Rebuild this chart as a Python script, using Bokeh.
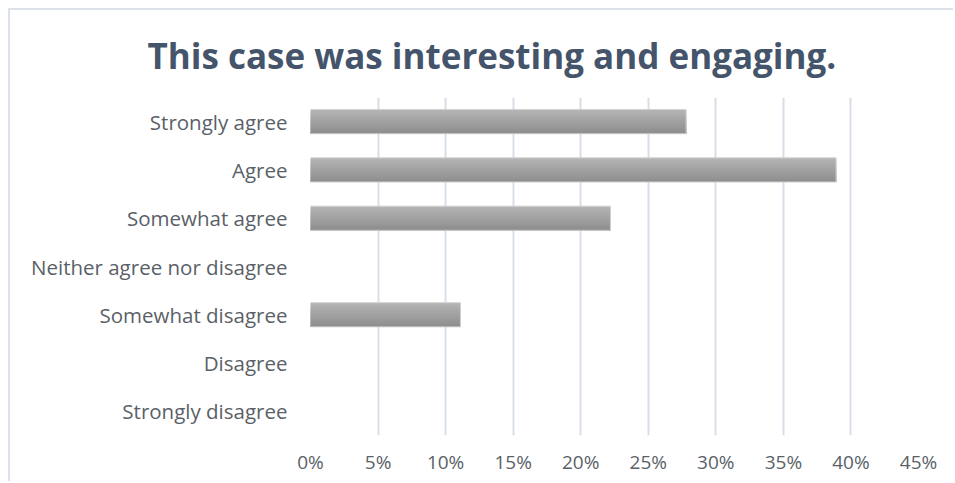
from bokeh.plotting import figure
from bokeh.models import FixedTicker, ColumnDataSource
from bokeh.transform import dodge
from bokeh.embed import file_html
from bokeh.resources import INLINE

title_text = "This case was interesting and engaging."
categories = ["Strongly agree", "Agree", "Somewhat agree", "Neither agree nor disagree",
              "Somewhat disagree", "Disagree", "Strongly disagree"]
percent_values = [27.8, 38.9, 22.2, 0.0, 11.1, 0.0, 0.0]
tick_values = [0, 5, 10, 15, 20, 25, 30, 35, 40, 45]
tick_labels = ["0%", "5%", "10%", "15%", "20%", "25%", "30%", "35%", "40%", "45%"]

OFF = 10  # margin + border
W, H = 955 - OFF, 483 - OFF
FL, FR, FT, FB = 310 - OFF, 918 - OFF, 97 - OFF, 435 - OFF
p = figure(width=W, height=H, y_range=list(reversed(categories)), x_range=(0, 45),
           output_backend="svg", toolbar_location=None,
           min_border_left=FL, min_border_right=W - FR, min_border_top=FT,
           min_border_bottom=H - FB)
p.margin = (8, 0, 0, 8)
p.styles = {"border-top": "2px solid #dde2ea", "border-left": "2px solid #dde2ea"}
p.outline_line_color = None
p.background_fill_color = "white"
p.border_fill_color = "white"

p.title.text = title_text
p.title.align = "left"
p.title.vertical_align = "middle"
p.title.offset = 147 - 310
p.title.standoff = 36
p.title.text_font = "Open Sans"
p.title.text_font_style = "bold"
p.title.text_font_size = "35px"
p.title.text_color = "#44546A"

line_cols = ["#d0d0d0" if v > 0 else None for v in percent_values]
src = ColumnDataSource(dict(cat=categories, val=percent_values, lc=line_cols))

# gradient-like bar fill: stacked stripes, each reaching to the bar bottom
n = 14
bar_h = 0.5
top_c = (0xB4, 0xB4, 0xB4)
bot_c = (0x8E, 0x8E, 0x8E)
for i in range(n):
    t = i / (n - 1)
    c = tuple(int(round(top_c[k] + (bot_c[k] - top_c[k]) * t)) for k in range(3))
    col = "#%02x%02x%02x" % c
    top_edge = bar_h / 2 - i * bar_h / n
    hh = top_edge + bar_h / 2
    off = top_edge - hh / 2
    p.hbar(y=dodge("cat", off, range=p.y_range), right="val", left=0,
           height=hh, source=src, fill_color=col, line_color=None)
p.hbar(y="cat", right="val", left=0, height=bar_h, source=src,
       fill_color=None, line_color="lc", line_width=1)

p.xgrid.grid_line_color = "#d9dee6"
p.xgrid.grid_line_width = 2
p.ygrid.grid_line_color = None

p.xaxis.ticker = FixedTicker(ticks=tick_values)
p.xaxis.major_label_overrides = {v: l for v, l in zip(tick_values, tick_labels)}
for ax in (p.xaxis[0], p.yaxis[0]):
    ax.axis_line_color = None
    ax.major_tick_line_color = None
    ax.minor_tick_line_color = None
    ax.major_label_text_font = "Open Sans"
    ax.major_label_text_color = "#5a5f68"
p.yaxis.major_label_text_font_size = "20.5px"
p.xaxis.major_label_text_font_size = "19px"
p.xaxis.major_label_standoff = 7
p.yaxis.major_label_standoff = 17

open("out.html", "w").write(file_html(p, INLINE))
